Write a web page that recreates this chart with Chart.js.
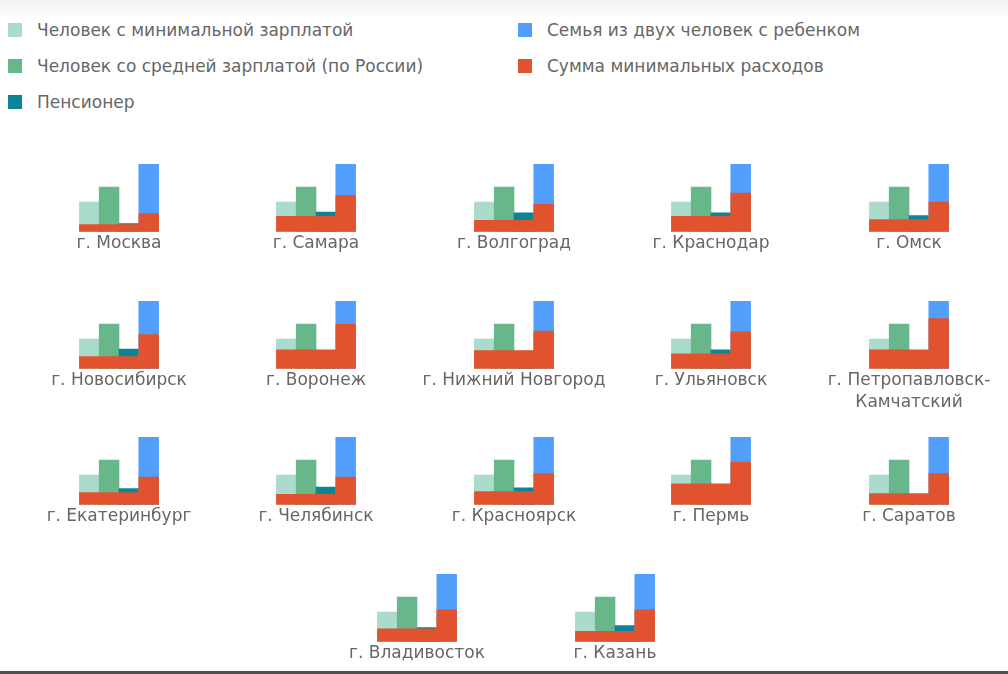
<!DOCTYPE html>
<html><head><meta charset="utf-8">
<script src="https://cdn.jsdelivr.net/npm/chart.js@4.4.1/dist/chart.umd.min.js"></script>
<style>
html,body{margin:0;padding:0;background:#fff;width:1008px;height:674px;overflow:hidden;font-family:"DejaVu Sans",sans-serif;}
#topband{position:absolute;left:0;top:0;width:1008px;height:16px;background:linear-gradient(#f3f3f3,#fcfcfc);}
#bottomline{position:absolute;left:0;top:671px;width:1008px;height:3px;background:#505050;}
.leg{position:absolute;display:flex;align-items:center;font-size:17px;color:#666;white-space:nowrap;height:20px;}
.leg i{display:inline-block;width:14px;height:14px;margin-right:15px;flex:none;}
canvas.cell{position:absolute;}
</style></head><body>
<div id="topband"></div>
<div id="legend"></div>
<div id="charts"></div>
<div id="bottomline"></div>
<script>
// Series (legend order)
const seriesNames = [
  'Человек с минимальной зарплатой',
  'Человек со средней зарплатой (по России)',
  'Пенсионер',
  'Семья из двух человек с ребенком',
  'Сумма минимальных расходов'
];
const seriesColors = ['#aadbcd', '#68b78b', '#0b8496', '#529ffb', '#e1532f'];
const categories = seriesNames.slice(0, 4);

const cities = [
  'г. Москва', 'г. Самара', 'г. Волгоград', 'г. Краснодар', 'г. Омск',
  'г. Новосибирск', 'г. Воронеж', 'г. Нижний Новгород', 'г. Ульяновск', ['г. Петропавловск-', 'Камчатский'],
  'г. Екатеринбург', 'г. Челябинск', 'г. Красноярск', 'г. Пермь', 'г. Саратов',
  'г. Владивосток', 'г. Казань'
];
// incomes (тыс. руб.)
const minWageIncome = [44,44,44,44,44, 44,44,44,44,44, 44,44,44,44,44, 44,44];
const avgWageIncome = [66,66,66,66,66, 66,66,66,66,66, 66,66,66,66,66, 66,66];
const pensionIncome = [12,29,28,28,24, 29,25,26,28,25, 24,26,25,30,15, 21,24];
const familyIncome  = [100,100,100,100,100, 100,100,100,100,100, 100,100,100,100,100, 100,100];
// minimal expenses (тыс. руб.)
const singleCosts = [10.5,23,17,23,18, 18,28,27,22,28, 18,15.5,19.5,31,16.5, 19,15.5];
const familyCosts = [27,53.5,41,57,44, 50.5,66,55.5,54.5,74, 41,41,46,63,46, 47,47];

// empty side slots so the four adjacent bars sit in the middle of each small chart
const SIDE = 3;
const pad = arr => [...Array(SIDE).fill(null), ...arr, ...Array(SIDE).fill(null)];
const paddedLabels = [...Array(SIDE).fill(''), ...categories, ...Array(SIDE).fill(' ')];

// legend
const legendEl = document.getElementById('legend');
const legendPos = [[8,30],[8,66],[8,102],[518,30],[518,66]];
seriesNames.forEach((n, i) => {
  const d = document.createElement('div');
  d.className = 'leg';
  d.style.left = legendPos[i][0] + 'px';
  d.style.top = (legendPos[i][1] - 10) + 'px';
  const b = document.createElement('i');
  b.style.background = seriesColors[i];
  d.appendChild(b);
  d.appendChild(document.createTextNode(n));
  legendEl.appendChild(d);
});

// layout of the small multiples
const rowTops = [164, 300.5, 437, 573.5];
const colCenters = [118.5, 316, 513.5, 711, 909];
const lastRowCenters = [417, 615];
const chartsEl = document.getElementById('charts');
const LH = 22.1;

cities.forEach((city, i) => {
  const row = Math.floor(i / 5), col = i % 5;
  const cx = row < 3 ? colCenters[col] : lastRowCenters[col];
  const cv = document.createElement('canvas');
  cv.className = 'cell';
  cv.width = 198; cv.height = 123;
  cv.style.width = '198px'; cv.style.height = '123px';
  cv.style.left = Math.round(cx - 99) + 'px';
  cv.style.top = Math.round(rowTops[row] - 10) + 'px';
  chartsEl.appendChild(cv);
  const lines = Array.isArray(city) ? city.length : 1;
  const s = singleCosts[i], f = familyCosts[i];
  new Chart(cv, {
    type: 'bar',
    data: {
      labels: paddedLabels,
      datasets: [
        {
          label: seriesNames[4],
          data: pad([s, s, s, f]),
          backgroundColor: seriesColors[4],
          grouped: false, barPercentage: 1, categoryPercentage: 1
        },
        {
          label: 'Доход',
          data: pad([minWageIncome[i], avgWageIncome[i], pensionIncome[i], familyIncome[i]]),
          backgroundColor: pad(seriesColors.slice(0, 4)),
          grouped: false, barPercentage: 1, categoryPercentage: 1
        }
      ]
    },
    options: {
      responsive: false, animation: false, devicePixelRatio: 1,
      layout: { padding: { left: 0, right: 0, top: 10, bottom: 0 } },
      plugins: { legend: { display: false }, tooltip: { enabled: false } },
      scales: {
        x: {
          grid: { display: false, drawTicks: false },
          border: { display: false },
          ticks: { display: false },
          title: {
            display: true, text: city, color: '#666',
            font: { family: 'DejaVu Sans', size: 17, lineHeight: 1.3 },
            padding: { top: 1, bottom: lines === 1 ? LH : 0 }
          }
        },
        y: { display: false, min: 0, max: 100 }
      }
    }
  });
});
</script>
</body></html>
